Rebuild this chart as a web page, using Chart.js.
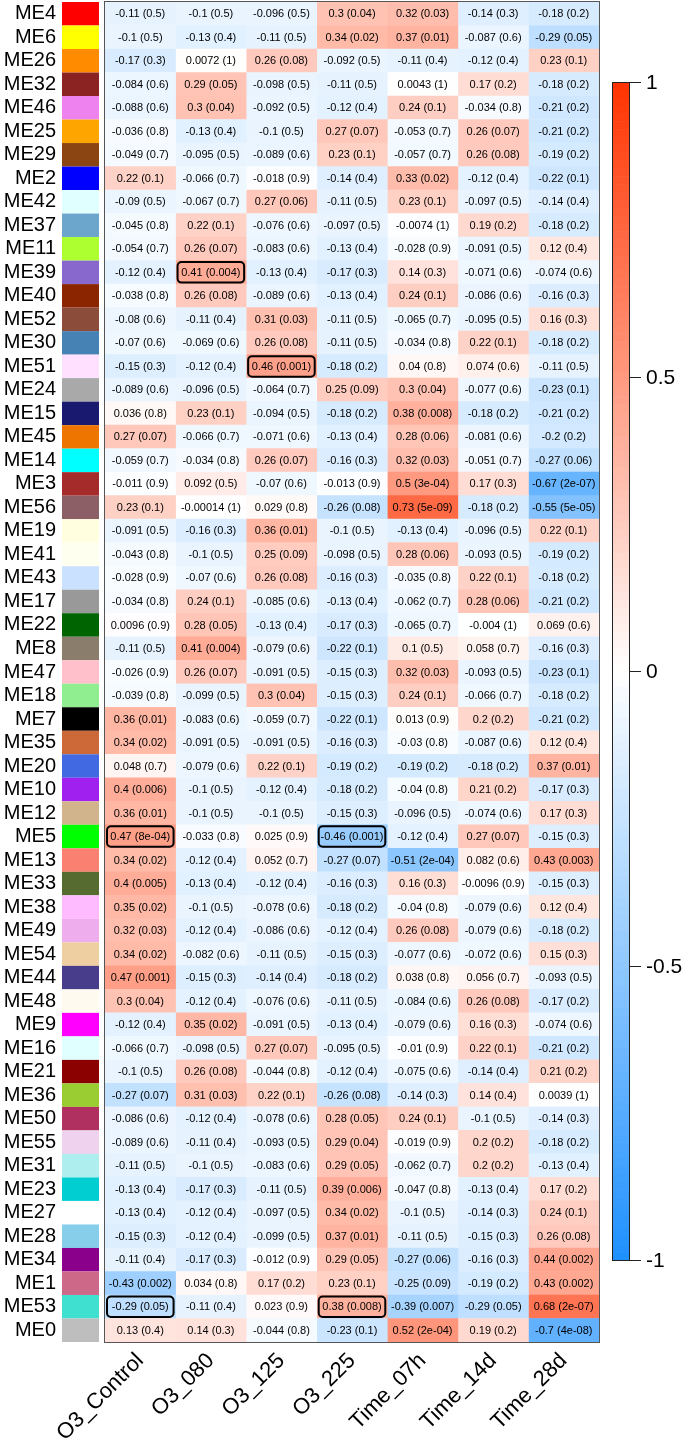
<!DOCTYPE html>
<html>
<head>
<meta charset="utf-8">
<script src="https://cdn.jsdelivr.net/npm/chart.js@4/dist/chart.umd.min.js"></script>
<style>
  body { margin: 0; background: #fff; }
  #wrap { width: 685px; height: 1448px; }
</style>
</head>
<body>
<div id="wrap"><canvas id="heat" width="685" height="1448"></canvas></div>
<script>
// module eigengenes (rows, top to bottom) and their colours
let modules = ["ME4","ME6","ME26","ME32","ME46","ME25","ME29","ME2","ME42","ME37","ME11","ME39","ME40","ME52","ME30","ME51","ME24","ME15","ME45","ME14","ME3","ME56","ME19","ME41","ME43","ME17","ME22","ME8","ME47","ME18","ME7","ME35","ME20","ME10","ME12","ME5","ME13","ME33","ME38","ME49","ME54","ME44","ME48","ME9","ME16","ME21","ME36","ME50","ME55","ME31","ME23","ME27","ME28","ME34","ME1","ME53","ME0"];
let moduleColors = ["#FF0000","#FFFF00","#FF8C00","#8B2323","#EE82EE","#FFA500","#8B4513","#0000FF","#E0FFFF","#6CA6CD","#ADFF2F","#8968CD","#8B2500","#8B4C39","#4682B4","#FFE1FF","#A9A9A9","#191970","#EE7600","#00FFFF","#A52A2A","#8B5F65","#FFFFE0","#FFFFF0","#CAE1FF","#999999","#006400","#8B7D6B","#FFC0CB","#90EE90","#000000","#CD6839","#4169E1","#A020F0","#D2B48C","#00FF00","#FA8072","#556B2F","#FFBBFF","#EEAEEE","#EECFA1","#483D8B","#FFFAF0","#FF00FF","#E0FFFF","#8B0000","#9ACD32","#B03060","#EED2EE","#AFEEEE","#00CED1","#FFFFFF","#87CEEB","#8B008B","#CD6889","#40E0D0","#BEBEBE"];

let traits = ["O3_Control","O3_080","O3_125","O3_225","Time_07h","Time_14d","Time_28d"];

// correlation and p-value per trait column
let rControl = [-0.11,-0.1,-0.17,-0.084,-0.088,-0.036,-0.049,0.22,-0.09,-0.045,-0.054,-0.12,-0.038,-0.08,-0.07,-0.15,-0.089,0.036,0.27,-0.059,-0.011,0.23,-0.091,-0.043,-0.028,-0.034,0.0096,-0.11,-0.026,-0.039,0.36,0.34,0.048,0.4,0.36,0.47,0.34,0.4,0.35,0.32,0.34,0.47,0.3,-0.12,-0.066,-0.1,-0.27,-0.086,-0.089,-0.11,-0.13,-0.13,-0.15,-0.11,-0.43,-0.29,0.13];
let pControl = ["0.5","0.5","0.3","0.6","0.6","0.8","0.7","0.1","0.5","0.8","0.7","0.4","0.8","0.6","0.6","0.3","0.6","0.8","0.07","0.7","0.9","0.1","0.5","0.8","0.9","0.8","0.9","0.5","0.9","0.8","0.01","0.02","0.7","0.006","0.01","8e-04","0.02","0.005","0.02","0.03","0.02","0.001","0.04","0.4","0.7","0.5","0.07","0.6","0.6","0.5","0.4","0.4","0.3","0.4","0.002","0.05","0.4"];

let rO3080 = [-0.1,-0.13,0.0072,0.29,0.3,-0.13,-0.095,-0.066,-0.067,0.22,0.26,0.41,0.26,-0.11,-0.069,-0.12,-0.096,0.23,-0.066,-0.034,0.092,-0.00014,-0.16,-0.1,-0.07,0.24,0.28,0.41,0.26,-0.099,-0.083,-0.091,-0.079,-0.1,-0.1,-0.033,-0.12,-0.13,-0.1,-0.12,-0.082,-0.15,-0.12,0.35,-0.098,0.26,0.31,-0.12,-0.11,-0.1,-0.17,-0.12,-0.12,-0.17,0.034,-0.11,0.14];
let pO3080 = ["0.5","0.4","1","0.05","0.04","0.4","0.5","0.7","0.7","0.1","0.07","0.004","0.08","0.4","0.6","0.4","0.5","0.1","0.7","0.8","0.5","1","0.3","0.5","0.6","0.1","0.05","0.004","0.07","0.5","0.6","0.5","0.6","0.5","0.5","0.8","0.4","0.4","0.5","0.4","0.6","0.3","0.4","0.02","0.5","0.08","0.03","0.4","0.4","0.5","0.3","0.4","0.4","0.3","0.8","0.4","0.3"];

let rO3125 = [-0.096,-0.11,0.26,-0.098,-0.092,-0.1,-0.089,-0.018,0.27,-0.076,-0.083,-0.13,-0.089,0.31,0.26,0.46,-0.064,-0.094,-0.071,0.26,-0.07,0.029,0.36,0.25,0.26,-0.085,-0.13,-0.079,-0.091,0.3,-0.059,-0.091,0.22,-0.12,-0.1,0.025,0.052,-0.12,-0.078,-0.086,-0.11,-0.14,-0.076,-0.091,0.27,-0.044,0.22,-0.078,-0.093,-0.083,-0.11,-0.097,-0.099,-0.012,0.17,0.023,-0.044];
let pO3125 = ["0.5","0.5","0.08","0.5","0.5","0.5","0.6","0.9","0.06","0.6","0.6","0.4","0.6","0.03","0.08","0.001","0.7","0.5","0.6","0.07","0.6","0.8","0.01","0.09","0.08","0.6","0.4","0.6","0.5","0.04","0.7","0.5","0.1","0.4","0.5","0.9","0.7","0.4","0.6","0.6","0.5","0.4","0.6","0.5","0.07","0.8","0.1","0.6","0.5","0.6","0.5","0.5","0.5","0.9","0.2","0.9","0.8"];

let rO3225 = [0.3,0.34,-0.092,-0.11,-0.12,0.27,0.23,-0.14,-0.11,-0.097,-0.13,-0.17,-0.13,-0.11,-0.11,-0.18,0.25,-0.18,-0.13,-0.16,-0.013,-0.26,-0.1,-0.098,-0.16,-0.13,-0.17,-0.22,-0.15,-0.15,-0.22,-0.16,-0.19,-0.18,-0.15,-0.46,-0.27,-0.16,-0.18,-0.12,-0.15,-0.18,-0.11,-0.13,-0.095,-0.12,-0.26,0.28,0.29,0.29,0.39,0.34,0.37,0.29,0.23,0.38,-0.23];
let pO3225 = ["0.04","0.02","0.5","0.5","0.4","0.07","0.1","0.4","0.5","0.5","0.4","0.3","0.4","0.5","0.5","0.2","0.09","0.2","0.4","0.3","0.9","0.08","0.5","0.5","0.3","0.4","0.3","0.1","0.3","0.3","0.1","0.3","0.2","0.2","0.3","0.001","0.07","0.3","0.2","0.4","0.3","0.2","0.5","0.4","0.5","0.4","0.08","0.05","0.04","0.05","0.006","0.02","0.01","0.05","0.1","0.008","0.1"];

let rT07h = [0.32,0.37,-0.11,0.0043,0.24,-0.053,-0.057,0.33,0.23,-0.0074,-0.028,0.14,0.24,-0.065,-0.034,0.04,0.3,0.38,0.28,0.32,0.5,0.73,-0.13,0.28,-0.035,-0.062,-0.065,0.1,0.32,0.24,0.013,-0.03,-0.19,-0.04,-0.096,-0.12,-0.51,0.16,-0.04,0.26,-0.077,0.038,-0.084,-0.079,-0.01,-0.075,-0.14,0.24,-0.019,-0.062,-0.047,-0.1,-0.11,-0.27,-0.25,-0.39,0.52];
let pT07h = ["0.03","0.01","0.4","1","0.1","0.7","0.7","0.02","0.1","1","0.9","0.3","0.1","0.7","0.8","0.8","0.04","0.008","0.06","0.03","3e-04","5e-09","0.4","0.06","0.8","0.7","0.7","0.5","0.03","0.1","0.9","0.8","0.2","0.8","0.5","0.4","2e-04","0.3","0.8","0.08","0.6","0.8","0.6","0.6","0.9","0.6","0.3","0.1","0.9","0.7","0.8","0.5","0.5","0.06","0.09","0.007","2e-04"];

let rT14d = [-0.14,-0.087,-0.12,0.17,-0.034,0.26,0.26,-0.12,-0.097,0.19,-0.091,-0.071,-0.086,-0.095,0.22,0.074,-0.077,-0.18,-0.081,-0.051,0.17,-0.18,-0.096,-0.093,0.22,0.28,-0.004,0.058,-0.093,-0.066,0.2,-0.087,-0.18,0.21,-0.074,0.27,0.082,-0.0096,-0.079,-0.079,-0.072,0.056,0.26,0.16,0.22,-0.14,0.14,-0.1,0.2,0.2,-0.13,-0.14,-0.15,-0.16,-0.19,-0.29,0.19];
let pT14d = ["0.3","0.6","0.4","0.2","0.8","0.07","0.08","0.4","0.5","0.2","0.5","0.6","0.6","0.5","0.1","0.6","0.6","0.2","0.6","0.7","0.3","0.2","0.5","0.5","0.1","0.06","1","0.7","0.5","0.7","0.2","0.6","0.2","0.2","0.6","0.07","0.6","0.9","0.6","0.6","0.6","0.7","0.08","0.3","0.1","0.4","0.4","0.5","0.2","0.2","0.4","0.3","0.3","0.3","0.2","0.05","0.2"];

let rT28d = [-0.18,-0.29,0.23,-0.18,-0.21,-0.21,-0.19,-0.22,-0.14,-0.18,0.12,-0.074,-0.16,0.16,-0.18,-0.11,-0.23,-0.21,-0.2,-0.27,-0.67,-0.55,0.22,-0.19,-0.18,-0.21,0.069,-0.16,-0.23,-0.18,-0.21,0.12,0.37,-0.17,0.17,-0.15,0.43,-0.15,0.12,-0.18,0.15,-0.093,-0.17,-0.074,-0.21,0.21,0.0039,-0.14,-0.18,-0.13,0.17,0.24,0.26,0.44,0.43,0.68,-0.7];
let pT28d = ["0.2","0.05","0.1","0.2","0.2","0.2","0.2","0.1","0.4","0.2","0.4","0.6","0.3","0.3","0.2","0.5","0.1","0.2","0.2","0.06","2e-07","5e-05","0.1","0.2","0.2","0.2","0.6","0.3","0.1","0.2","0.2","0.4","0.01","0.3","0.3","0.3","0.003","0.3","0.4","0.2","0.3","0.5","0.2","0.6","0.2","0.2","1","0.3","0.2","0.4","0.2","0.1","0.08","0.002","0.002","2e-07","4e-08"];

// cells outlined in black
let boxed = [["ME39","O3_080"],["ME51","O3_125"],["ME5","O3_Control"],["ME5","O3_225"],["ME53","O3_Control"],["ME53","O3_225"]];

let cbTicks = [1, 0.5, 0, -0.5, -1];

let cellR = [rControl, rO3080, rO3125, rO3225, rT07h, rT14d, rT28d];
let cellP = [pControl, pO3080, pO3125, pO3225, pT07h, pT14d, pT28d];

const FONT = '"Liberation Sans", Arial, sans-serif';
Chart.defaults.font.family = FONT;
Chart.defaults.color = "#000";

// white -> blue for negatives, white -> red for positives
function heatColor(v) {
    let end = v < 0 ? [30, 144, 255] : [255, 51, 0];
    let t = Math.min(1, Math.abs(v));
    let c = end.map(e => Math.round(255 + (e - 255) * t));
    return "rgb(" + c.join(",") + ")";
}

// swatches, cell text, outlined cells, frame and colour key
const heatExtras = {
    id: "heatExtras",
    afterDatasetsDraw(chart) {
        let ctx = chart.ctx;
        let area = chart.chartArea;
        ctx.save();

        // module colour swatches next to the row labels
        let first = chart.getDatasetMeta(0).data;
        first.forEach((bar, i) => {
            let h = bar.height;
            ctx.fillStyle = moduleColors[i];
            ctx.fillRect(62, bar.y - h / 2, 37, h);
        });

        // r (p) text in every cell
        ctx.font = "11px " + FONT;
        ctx.fillStyle = "#000";
        ctx.textAlign = "center";
        ctx.textBaseline = "middle";
        traits.forEach((t, j) => {
            chart.getDatasetMeta(j).data.forEach((bar, i) => {
                let c = bar.getCenterPoint();
                ctx.fillText(cellR[j][i] + " (" + cellP[j][i] + ")", c.x, c.y + 0.5);
            });
        });

        // outlined cells
        ctx.strokeStyle = "#000";
        ctx.lineWidth = 2;
        boxed.forEach(([m, t]) => {
            let bar = chart.getDatasetMeta(traits.indexOf(t)).data[modules.indexOf(m)];
            let left = Math.min(bar.x, bar.base), w = Math.abs(bar.x - bar.base);
            ctx.beginPath();
            ctx.roundRect(left + 2, bar.y - bar.height / 2 + 1.5, w - 4, bar.height - 3, 4);
            ctx.stroke();
        });

        // frame round the heatmap
        ctx.strokeStyle = "#555";
        ctx.lineWidth = 1;
        ctx.strokeRect(area.left - 0.5, area.top - 0.5, area.right - area.left + 1, area.bottom - area.top + 1);

        // colour key
        let cbX = 612, cbW = 17, cbTop = 82, cbBot = 1260;
        let toY = v => cbTop + (1 - v) / 2 * (cbBot - cbTop);
        let nBands = 150, bh = (cbBot - cbTop) / nBands;
        for (let k = 0; k < nBands; k++) {
            ctx.fillStyle = heatColor(1 - (k + 0.5) * 2 / nBands);
            ctx.fillRect(cbX, cbTop + k * bh, cbW, bh + 0.6);
        }
        ctx.strokeStyle = "#222";
        ctx.strokeRect(cbX + 0.5, cbTop + 0.5, cbW, cbBot - cbTop);
        ctx.font = "21px " + FONT;
        ctx.fillStyle = "#000";
        ctx.textAlign = "left";
        cbTicks.forEach(v => {
            let y = Math.round(toY(v)) + 0.5;
            ctx.beginPath();
            ctx.moveTo(cbX + cbW, y);
            ctx.lineTo(cbX + cbW + 12, y);
            ctx.stroke();
            ctx.fillText(String(v), cbX + cbW + 17, y + 1);
        });

        ctx.restore();
    }
};

let datasets = traits.map((t, j) => ({
    label: t,
    data: modules.map(() => [j, j + 1]),
    backgroundColor: cellR[j].map(heatColor),
    borderWidth: 0,
    barPercentage: 1,
    categoryPercentage: 1,
    grouped: false
}));

new Chart(document.getElementById("heat"), {
    type: "bar",
    data: { labels: modules, datasets: datasets },
    options: {
        responsive: false,
        animation: false,
        indexAxis: "y",
        layout: { padding: { top: 2, right: 86, bottom: 0, left: 0 } },
        plugins: { legend: { display: false }, tooltip: { enabled: false } },
        scales: {
            x: {
                type: "linear",
                min: 0,
                max: traits.length,
                grid: { display: false, drawTicks: false },
                border: { display: false },
                afterBuildTicks: s => { s.ticks = traits.map((t, j) => ({ value: j + 0.5 })); },
                afterFit: s => { s.height = 106; },
                ticks: {
                    autoSkip: false,
                    minRotation: 45,
                    maxRotation: 45,
                    padding: 6,
                    font: { size: 22 },
                    callback: (v, i) => traits[i]
                }
            },
            y: {
                type: "category",
                grid: { display: false, drawTicks: false },
                border: { display: false },
                afterFit: s => {
                    s.width = 105;
                    // tick padding only pushes labels left, not the plot down
                    s.paddingTop = 0;
                    s.paddingBottom = 0;
                },
                ticks: { autoSkip: false, padding: 49, font: { size: 20 } }
            }
        }
    },
    plugins: [heatExtras]
});
</script>
</body>
</html>
